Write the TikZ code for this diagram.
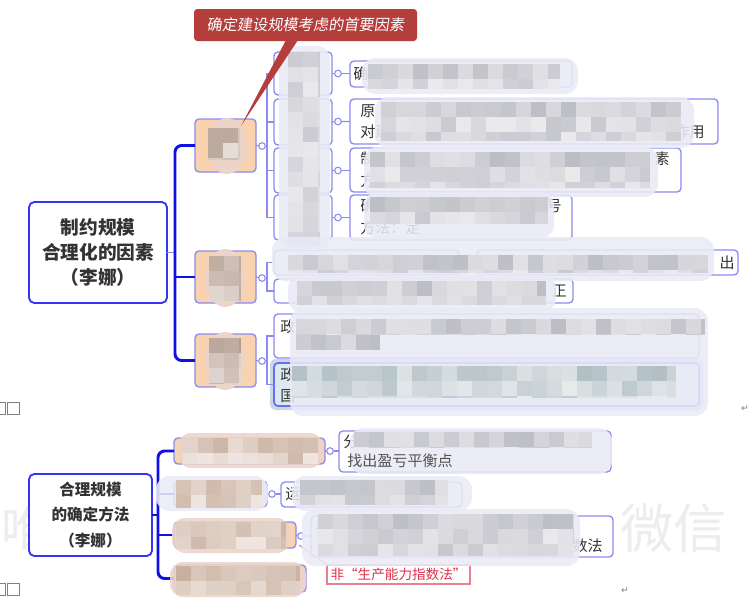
\documentclass[tikz,border=0pt]{standalone}
\usepackage{fontspec}
\setmainfont{Noto Sans CJK SC}
\newfontfamily\cjkit{Noto Sans CJK SC}[FakeSlant=0.15]
\newfontfamily\djv{DejaVu Sans}
\definecolor{rootblue}{HTML}{3535F2}
\definecolor{thickblue}{HTML}{1010E6}
\definecolor{lav}{HTML}{8A8AF0}
\definecolor{peach}{HTML}{F9D2B0}
\definecolor{callred}{HTML}{B43E3C}
\definecolor{txtgray}{HTML}{333333}
\definecolor{pgray}{HTML}{A0A0AC}
\definecolor{pbrown}{HTML}{8E6C58}
\definecolor{pbeige}{HTML}{B08A70}
\definecolor{pblue}{HTML}{8FA3AA}
\definecolor{halolav}{HTML}{EAEAF7}
\definecolor{halopink}{HTML}{ECD4CA}
\definecolor{selfill}{HTML}{DCEAF0}
\definecolor{selshadow}{HTML}{C9D8E2}
\definecolor{wm}{HTML}{EDEDED}
\definecolor{redtxt}{HTML}{E0304A}
\definecolor{redline}{HTML}{E88090}
\newcommand\leaffont{\fontsize{11.3}{13}\selectfont}
\tikzset{
  rootbox/.style={draw=rootblue, line width=1.4pt, rounded corners=4pt, fill=white, inner sep=0pt, outer sep=0pt, align=center, text=txtgray},
  orbox/.style={draw=lav, line width=1pt, rounded corners=3pt, fill=peach, inner sep=0pt, outer sep=0pt},
  lfbox/.style={draw=lav, line width=1pt, rounded corners=3pt, fill=white, inner sep=0pt, outer sep=0pt},
  selbox/.style={draw=lav!80!blue, line width=1.3pt, rounded corners=3pt, fill=selfill, inner sep=0pt, outer sep=0pt},
  callbox/.style={fill=callred, rounded corners=2.5pt, inner sep=0pt, outer sep=0pt, text=white, font=\cjkit\fontsize{11.4}{13}\selectfont},
  redlabel/.style={draw=redline, line width=0.8pt, fill=white, inner sep=0pt, outer sep=0pt, text=redtxt, font=\fontsize{10.2}{12}\selectfont},
  thk/.style={draw=thickblue, line width=2.2pt},
  thn/.style={draw=lav, line width=0.9pt},
  dot/.style={circle, draw=lav, fill=white, line width=0.8pt, minimum size=5pt, inner sep=0pt},
  frag/.style={inner sep=0pt, anchor=west, font=\leaffont, text=txtgray},
  fragr/.style={inner sep=0pt, anchor=east, font=\leaffont, text=txtgray},
}
% box: style, name, x1, y1, x2, y2, content
\newcommand\bx[7]{\node[#1, anchor=north west, minimum width={(#5-#3)*0.75pt}, minimum height={(#6-#4)*0.75pt}] (#2) at (#3,#4) {#7};}
% pixelated blur: x1 y1 x2 y2 colour
\newcommand\pix[5]{%
  \pgfmathtruncatemacro\pnx{ceil((#3-#1)/15)}%
  \pgfmathtruncatemacro\pny{ceil((#4-#2)/15)}%
  \foreach \i in {1,...,\pnx}{%
    \foreach \j in {1,...,\pny}{%
      \pgfmathtruncatemacro\psh{max(10,min(90,32+38*rnd-10*min(\j-1,1)))}%
      \pgfmathsetmacro\pxa{#1+(\i-1)*15}%
      \pgfmathsetmacro\pxb{min(#1+\i*15,#3)}%
      \pgfmathsetmacro\pya{#2+(\j-1)*15}%
      \pgfmathsetmacro\pyb{min(#2+\j*15,#4)}%
      \fill[#5!\psh!white] (\pxa,\pya) rectangle (\pxb,\pyb);
    }}}
\newcommand\halo[5]{\fill[#5, rounded corners=10pt, opacity=0.88] (#1,#2) rectangle (#3,#4);}
\begin{document}
\begin{tikzpicture}[x=0.75pt,y=-0.75pt]
\pgfmathsetseed{11}
\useasboundingbox (0,0) rectangle (754,597);
% watermark
\node[inner sep=0pt, anchor=west, text=wm, font=\fontsize{40}{40}\selectfont] (wm1) at (620,528) {微信};
\node[inner sep=0pt, anchor=west, text=wm, font=\fontsize{36}{36}\selectfont] (wm2) at (1,528) {唯};
% ================= top section =================
\bx{rootbox, font=\bfseries\fontsize{14}{19}\selectfont}{root1}{29}{202}{167}{303}{制约规模\\合理化的因素\\（李娜）}
\bx{orbox}{o1}{195}{119}{256}{172}{}
\bx{orbox}{o2}{195}{251}{256}{303}{}
\bx{orbox}{o3}{195}{334}{256}{387}{}
\draw[thn] (root1.east) -- ++(8,0);
\draw[thk, rounded corners=5pt] (o1.west) -- ++(-20,0) |- (o3.west);
\draw[thk] (o2.west) -- ++(-20,0);
% level 2 boxes of branch 1
\bx{lfbox}{l2a}{274}{52}{332}{95}{}
\bx{lfbox}{l2b}{274}{99}{332}{145}{}
\bx{lfbox}{l2c}{274}{148}{332}{193}{}
\bx{lfbox}{l2d}{274}{195}{332}{240}{}
\node[dot] (d1) at (262,146) {};
\draw[thn] (o1.east) -- (d1);
\draw[thn] (d1) -- ++(5,0);
\draw[thn] (l2a.west) -- ++(-7,0) |- (l2d.west);
\draw[thn] (l2b.west) -- ++(-7,0);
\draw[thn] (l2c.west) -- ++(-7,0);
% leaves of branch 1
\bx{lfbox}{L1}{350}{61}{572}{87}{}
\bx{lfbox}{L2}{350}{99}{718}{144}{}
\bx{lfbox}{L3}{350}{148}{681}{192}{}
\bx{lfbox}{L4}{350}{195}{572}{240}{}
\node[dot] (e1) at (338,73.5) {};
\node[dot] (e2) at (338,121.5) {};
\node[dot] (e3) at (338,170.5) {};
\node[dot] (e4) at (338,217.5) {};
\draw[thn] (l2a.east) -- (e1) -- (e1 -| L1.west);
\draw[thn] (l2b.east) -- (e2) -- (e2 -| L2.west);
\draw[thn] (l2c.east) -- (e3) -- (e3 -| L3.west);
\draw[thn] (l2d.east) -- (e4) -- (e4 -| L4.west);
% branch 2
\node[dot] (d2) at (262,278) {};
\draw[thn] (o2.east) -- (d2);
\draw[thn] (d2) -- ++(5,0);
\bx{lfbox}{M1}{274}{250}{459}{275}{}
\bx{lfbox}{M2}{477}{250}{738}{275}{}
\bx{lfbox}{M3}{274}{279}{573}{303}{}
\node[dot] (d2b) at (468,262.5) {};
\draw[thn] (M1.east) -- (d2b) -- (M2.west);
\draw[thn] (M1.west) -- ++(-7,0) |- (M3.west);
% branch 3
\node[dot] (d3) at (262,361) {};
\draw[thn] (o3.east) -- (d3);
\draw[thn] (d3) -- ++(5,0);
\fill[selshadow, rounded corners=4pt] (270,359) rectangle (703,410);
\bx{lfbox}{N1}{274}{314}{699}{358}{}
\bx{selbox}{N2}{274}{363}{699}{406}{}
\draw[thn] (N1.west) -- ++(-7,0) |- (N2.west);
% visible text fragments (top)
\node[frag] (t1) at (353,74) {确};
\node[frag] (t2) at (360,111) {原};
\node[frag] (t3) at (360,132) {对建};
\node[fragr] (t4) at (705,132) {作用};
\node[frag] (t5) at (360,159) {制};
\node[frag] (t6) at (360,181) {方};
\node[fragr] (t7) at (670,159) {素};
\node[frag] (t8) at (360,206) {确};
\node[frag] (t9) at (360,228) {方法：定};
\node[fragr] (t10) at (562,206) {号};
\node[fragr] (t11) at (735,263) {出};
\node[fragr] (t12) at (567,291) {正};
\node[frag] (t13) at (280,327) {政};
\node[frag] (t14) at (280,375) {政};
\node[frag] (t15) at (280,396) {国};
% blurs (top)
\fill[halopink] (227,146) ellipse (20 and 28);
\pix{208}{128}{240}{160}{pbrown}
\fill[halopink] (225,278) ellipse (20 and 29);
\pix{209}{256}{241}{301}{pbrown}
\fill[halopink] (225,361) ellipse (20 and 29);
\pix{209}{338}{241}{384}{pbrown}
\halo{279}{46}{330}{250}{halolav}
\pix{288}{52}{320}{246}{pgray}
\halo{362}{58}{578}{94}{halolav}
\pix{368}{64}{560}{89}{pgray}
\halo{375}{97}{694}{148}{halolav}
\pix{381}{102}{681}{141}{pgray}
\halo{364}{147}{658}{197}{halolav}
\pix{370}{152}{650}{188}{pgray}
\halo{364}{192}{554}{238}{halolav}
\pix{370}{197}{548}{224}{pgray}
\halo{272}{237}{714}{281}{halolav}
\pix{288}{255}{708}{273}{pgray}
\halo{288}{275}{556}{312}{halolav}
\pix{297}{281}{546}{305}{pgray}
\halo{290}{308}{708}{416}{halolav}
\pix{296}{319}{705}{335}{pgray}
\pix{296}{335}{380}{350}{pgray}
\pix{292}{366}{676}{398}{pblue}
% ================= bottom section =================
\bx{rootbox, font=\bfseries\fontsize{11.7}{19}\selectfont}{root2}{29}{474}{152}{556}{合理规模\\的确定方法\\（李娜）}
\bx{orbox}{p1}{174}{438}{325}{464}{}
\bx{orbox}{p2}{174}{481}{267}{507}{}
\bx{orbox}{p3}{174}{522}{296}{548}{}
\bx{orbox}{p4}{174}{565}{306}{592}{}
\draw[thk] (root2.east) -- ++(6,0);
\draw[thk, rounded corners=5pt] (p1.west) -- ++(-16,0) |- (p4.west);
\draw[thk] (p2.west) -- ++(-16,0);
\draw[thk] (p3.west) -- ++(-16,0);
\bx{lfbox}{Q1}{339}{431}{611}{472}{}
\bx{lfbox}{Q2}{281}{482}{462}{507}{}
\bx{lfbox}{Q3}{311}{516}{613}{557}{}
\node[dot] (f1) at (330,451) {};
\node[dot] (f2) at (272,494) {};
\node[dot] (f3) at (301,536) {};
\draw[thn] (p1.east) -- (f1) -- (f1 -| Q1.west);
\draw[thn] (p2.east) -- (f2) -- (f2 -| Q2.west);
\draw[thn] (p3.east) -- (f3) -- (f3 -| Q3.west);
\bx{redlabel}{R}{327}{565}{470}{584}{非“生产能力指数法”}
\draw[redline, line width=0.8pt] (299,545) -- (R.north west);
% text fragments (bottom)
\node[frag] (u1) at (343,442) {分};
\node[frag] (u3) at (285,494) {运};
\node[frag] (u4) at (316,527) {按};
\node[fragr] (u5) at (603,546) {数法};
% blurs (bottom)
\halo{178}{433}{323}{468}{halopink}
\pix{183}{438}{318}{464}{pbeige}
\halo{156}{476}{268}{511}{halolav}
\pix{176}{480}{262}{508}{pbeige}
\halo{172}{518}{290}{553}{halopink}
\pix{176}{522}{286}{549}{pbeige}
\halo{170}{562}{306}{597}{halopink}
\pix{176}{566}{300}{595}{pbeige}
\halo{350}{428}{612}{474}{halolav}
\pix{354}{432}{592}{448}{pgray}
\node[frag, text=txtgray!85] (u2) at (347,461) {找出盈亏平衡点};
\halo{292}{476}{472}{511}{halolav}
\pix{300}{480}{448}{505}{pgray}
\halo{302}{509}{580}{566}{halolav}
\pix{318}{514}{574}{556}{pgray}
% callout
\fill[callred] (286,40) -- (298,40) -- (241,126) -- cycle;
\bx{callbox}{call}{194}{9}{417}{41}{确定建设规模考虑的首要因素}
% stray marks
\draw[gray, line width=0.5pt] (-6,402) rectangle (5,414);
\draw[gray, line width=0.5pt] (7,402) rectangle (19,414);
\draw[gray, line width=0.5pt] (-6,583) rectangle (5,595);
\draw[gray, line width=0.5pt] (7,583) rectangle (19,595);
\node[inner sep=0pt, text=gray, font=\djv\fontsize{7}{7}\selectfont] (r1) at (745,409) {↵};
\node[inner sep=0pt, text=gray, font=\djv\fontsize{7}{7}\selectfont] (r2) at (625,591) {↵};
\end{tikzpicture}
\end{document}
